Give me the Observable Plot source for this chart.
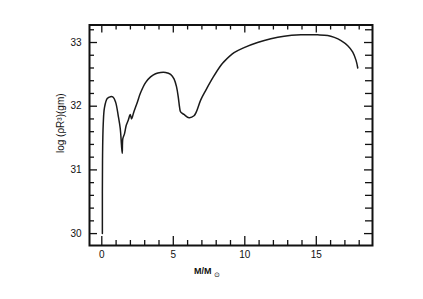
<!DOCTYPE html>
<html><head><meta charset="utf-8">
<script src="https://cdn.jsdelivr.net/npm/d3@7"></script>
<script src="https://cdn.jsdelivr.net/npm/@observablehq/plot@0.6"></script>
<style>body{margin:0;background:#fff}</style>
</head><body><div id="chart"></div>
<script>
const mass = [0.04, 0.05, 0.10, 0.19, 0.38, 0.61, 0.80, 0.97, 1.15, 1.29, 1.38, 1.43, 1.47, 1.59, 1.71, 1.85, 1.99, 2.08, 2.24, 2.48, 2.71, 3.06, 3.41, 3.76, 4.11, 4.46, 4.81, 5.05, 5.23, 5.35, 5.44, 5.51, 5.75, 6.10, 6.45, 6.61, 6.92, 7.27, 7.80, 8.32, 8.55, 9.25, 9.95, 10.89, 11.82, 12.75, 13.92, 15.09, 15.80, 16.26, 16.73, 17.20, 17.55, 17.78, 17.90];
const logRhoR3 = [30.00, 31.15, 31.72, 31.98, 32.12, 32.15, 32.14, 32.06, 31.85, 31.65, 31.38, 31.26, 31.49, 31.57, 31.70, 31.78, 31.87, 31.80, 31.91, 32.06, 32.21, 32.37, 32.46, 32.51, 32.53, 32.53, 32.50, 32.43, 32.30, 32.14, 31.98, 31.91, 31.87, 31.82, 31.85, 31.91, 32.10, 32.25, 32.46, 32.64, 32.70, 32.84, 32.92, 33.00, 33.06, 33.10, 33.12, 33.12, 33.11, 33.08, 33.03, 32.95, 32.85, 32.72, 32.60];
const xMajorTicks = [0, 5, 10, 15];
const xMinorTicks = [1, 2, 3, 4, 6, 7, 8, 9, 11, 12, 13, 14, 16, 17, 18];
const yMajorTicks = [30, 31, 32, 33];
const yMinorTicks = [30.2, 30.4, 30.6, 30.8, 31.2, 31.4, 31.6, 31.8, 32.2, 32.4, 32.6, 32.8, 33.2];
const yLabel = "log (ρR³)(gm)";
const xLabel = "M/M";
const xLabelSub = "⊙";

const W = 423, H = 299, mL = 89, mR = 51, mT = 24.5, mB = 54;
const iw = W - mL - mR, ih = H - mT - mB;
const data = mass.map((m, i) => ({m, v: logRhoR3[i]}));
const ink = "#111";
const tk = {stroke: ink, strokeWidth: 1.3};

const chart = Plot.plot({
  width: W, height: H,
  marginLeft: mL, marginRight: mR, marginTop: mT, marginBottom: mB,
  x: {domain: [-0.86, 18.93]},
  y: {domain: [29.813, 33.275]},
  style: {fontFamily: "'Liberation Sans', Arial, sans-serif", fontSize: "9px", color: ink, background: "#fff"},
  marks: [
    Plot.axisX(xMajorTicks, {tickSize: 0, tickPadding: 5, label: null, tickFormat: "d", fontSize: 10}),
    Plot.axisY(yMajorTicks, {tickSize: 0, tickPadding: 8, label: null, tickFormat: "d", fontSize: 10}),
    // bottom ticks (inward)
    Plot.tickX(xMajorTicks, {x: d => d, insetTop: ih - 9, ...tk}),
    Plot.tickX(xMinorTicks, {x: d => d, insetTop: ih - 5, ...tk}),
    // top ticks
    Plot.tickX(xMajorTicks, {x: d => d, insetBottom: ih - 8, ...tk}),
    Plot.tickX(xMinorTicks, {x: d => d, insetBottom: ih - 5, ...tk}),
    // left ticks
    Plot.tickY(yMajorTicks, {y: d => d, insetRight: iw - 8, ...tk}),
    Plot.tickY(yMinorTicks, {y: d => d, insetRight: iw - 5, ...tk}),
    // right ticks
    Plot.tickY(yMajorTicks, {y: d => d, insetLeft: iw - 8, ...tk}),
    Plot.tickY(yMinorTicks, {y: d => d, insetLeft: iw - 7, ...tk}),
    Plot.frame({stroke: ink, strokeWidth: 2}),
    Plot.line(data, {x: "m", y: "v", curve: "catmull-rom", stroke: "#1a1a1a", strokeWidth: 1.5}),
    Plot.text([yLabel], {frameAnchor: "left", textAnchor: "middle", lineAnchor: "middle", dx: -29, dy: -12, rotate: -90, fontSize: 10, fill: ink}),
    Plot.text([xLabel], {frameAnchor: "bottom", textAnchor: "start", lineAnchor: "middle", dx: -37, dy: 25.7, fontSize: 9, fontWeight: "bold", fill: ink}),
    Plot.text([xLabelSub], {frameAnchor: "bottom", textAnchor: "start", lineAnchor: "middle", dx: -17, dy: 29.5, fontSize: 7, fill: ink})
  ]
});
document.getElementById("chart").appendChild(chart);
</script>
</body></html>
